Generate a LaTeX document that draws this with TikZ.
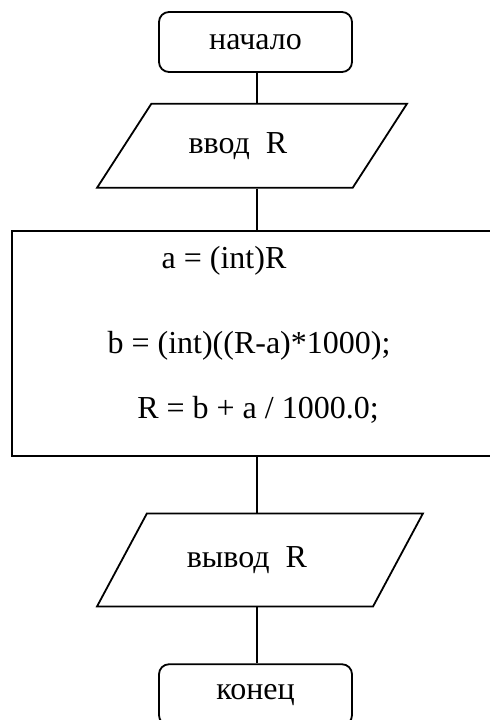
\documentclass[tikz,border=0pt]{standalone}
\usepackage{fontspec}
\setmainfont{Liberation Serif}
\usetikzlibrary{positioning,shapes.geometric}

\begin{document}
\begin{tikzpicture}[
  node distance=15pt,
  every node/.style={font=\fontsize{16pt}{19pt}\selectfont},
  term/.style={draw, line width=0.9pt, rounded corners=5pt,
               minimum width=96.5pt, minimum height=30pt},
  io/.style={draw, line width=0.9pt, trapezium, trapezium stretches=true},
  proc/.style={draw, line width=0.9pt, minimum width=245pt, minimum height=112.5pt},
  conn/.style={line width=0.9pt}
]
\useasboundingbox (0,0) rectangle (244.5pt,-360pt);
\node[term] (start) at (127.75pt,-21pt) {начало};
\node[io, trapezium left angle=47, trapezium right angle=133,
      minimum width=155pt, minimum height=42pt,
      below=15pt of start, xshift=-1.75pt] (input) {ввод\ \ R\hspace*{14pt}};
\node[proc, below=20.5pt of input, anchor=north, xshift=2.5pt] (calc) {};
\node at ([xshift=-16.5pt, yshift=-15.5pt]calc.north) (l1) {a = (int)R};
\node at ([xshift=-4pt, yshift=-58pt]calc.north) (l2) {b = (int)((R-a)*1000);};
\node at ([xshift=0.5pt, yshift=-90pt]calc.north) (l3) {R = b + a / 1000.0;};
\node[io, trapezium left angle=49, trapezium right angle=131,
      minimum width=163pt, minimum height=46.5pt,
      below=28pt of calc, xshift=1.5pt] (output) {вывод\ \ R\hspace*{13pt}};
\node[term, minimum height=30.5pt, below=28pt of output, xshift=-2.25pt] (stop) {конец};
\draw[conn] (calc.north |- start.south) -- (calc.north |- input.north);
\draw[conn] (calc.north |- input.south) -- (calc.north);
\draw[conn] (calc.south) -- (calc.south |- output.north);
\draw[conn] (calc.south |- output.south) -- (calc.south |- stop.north);
\end{tikzpicture}
\end{document}
